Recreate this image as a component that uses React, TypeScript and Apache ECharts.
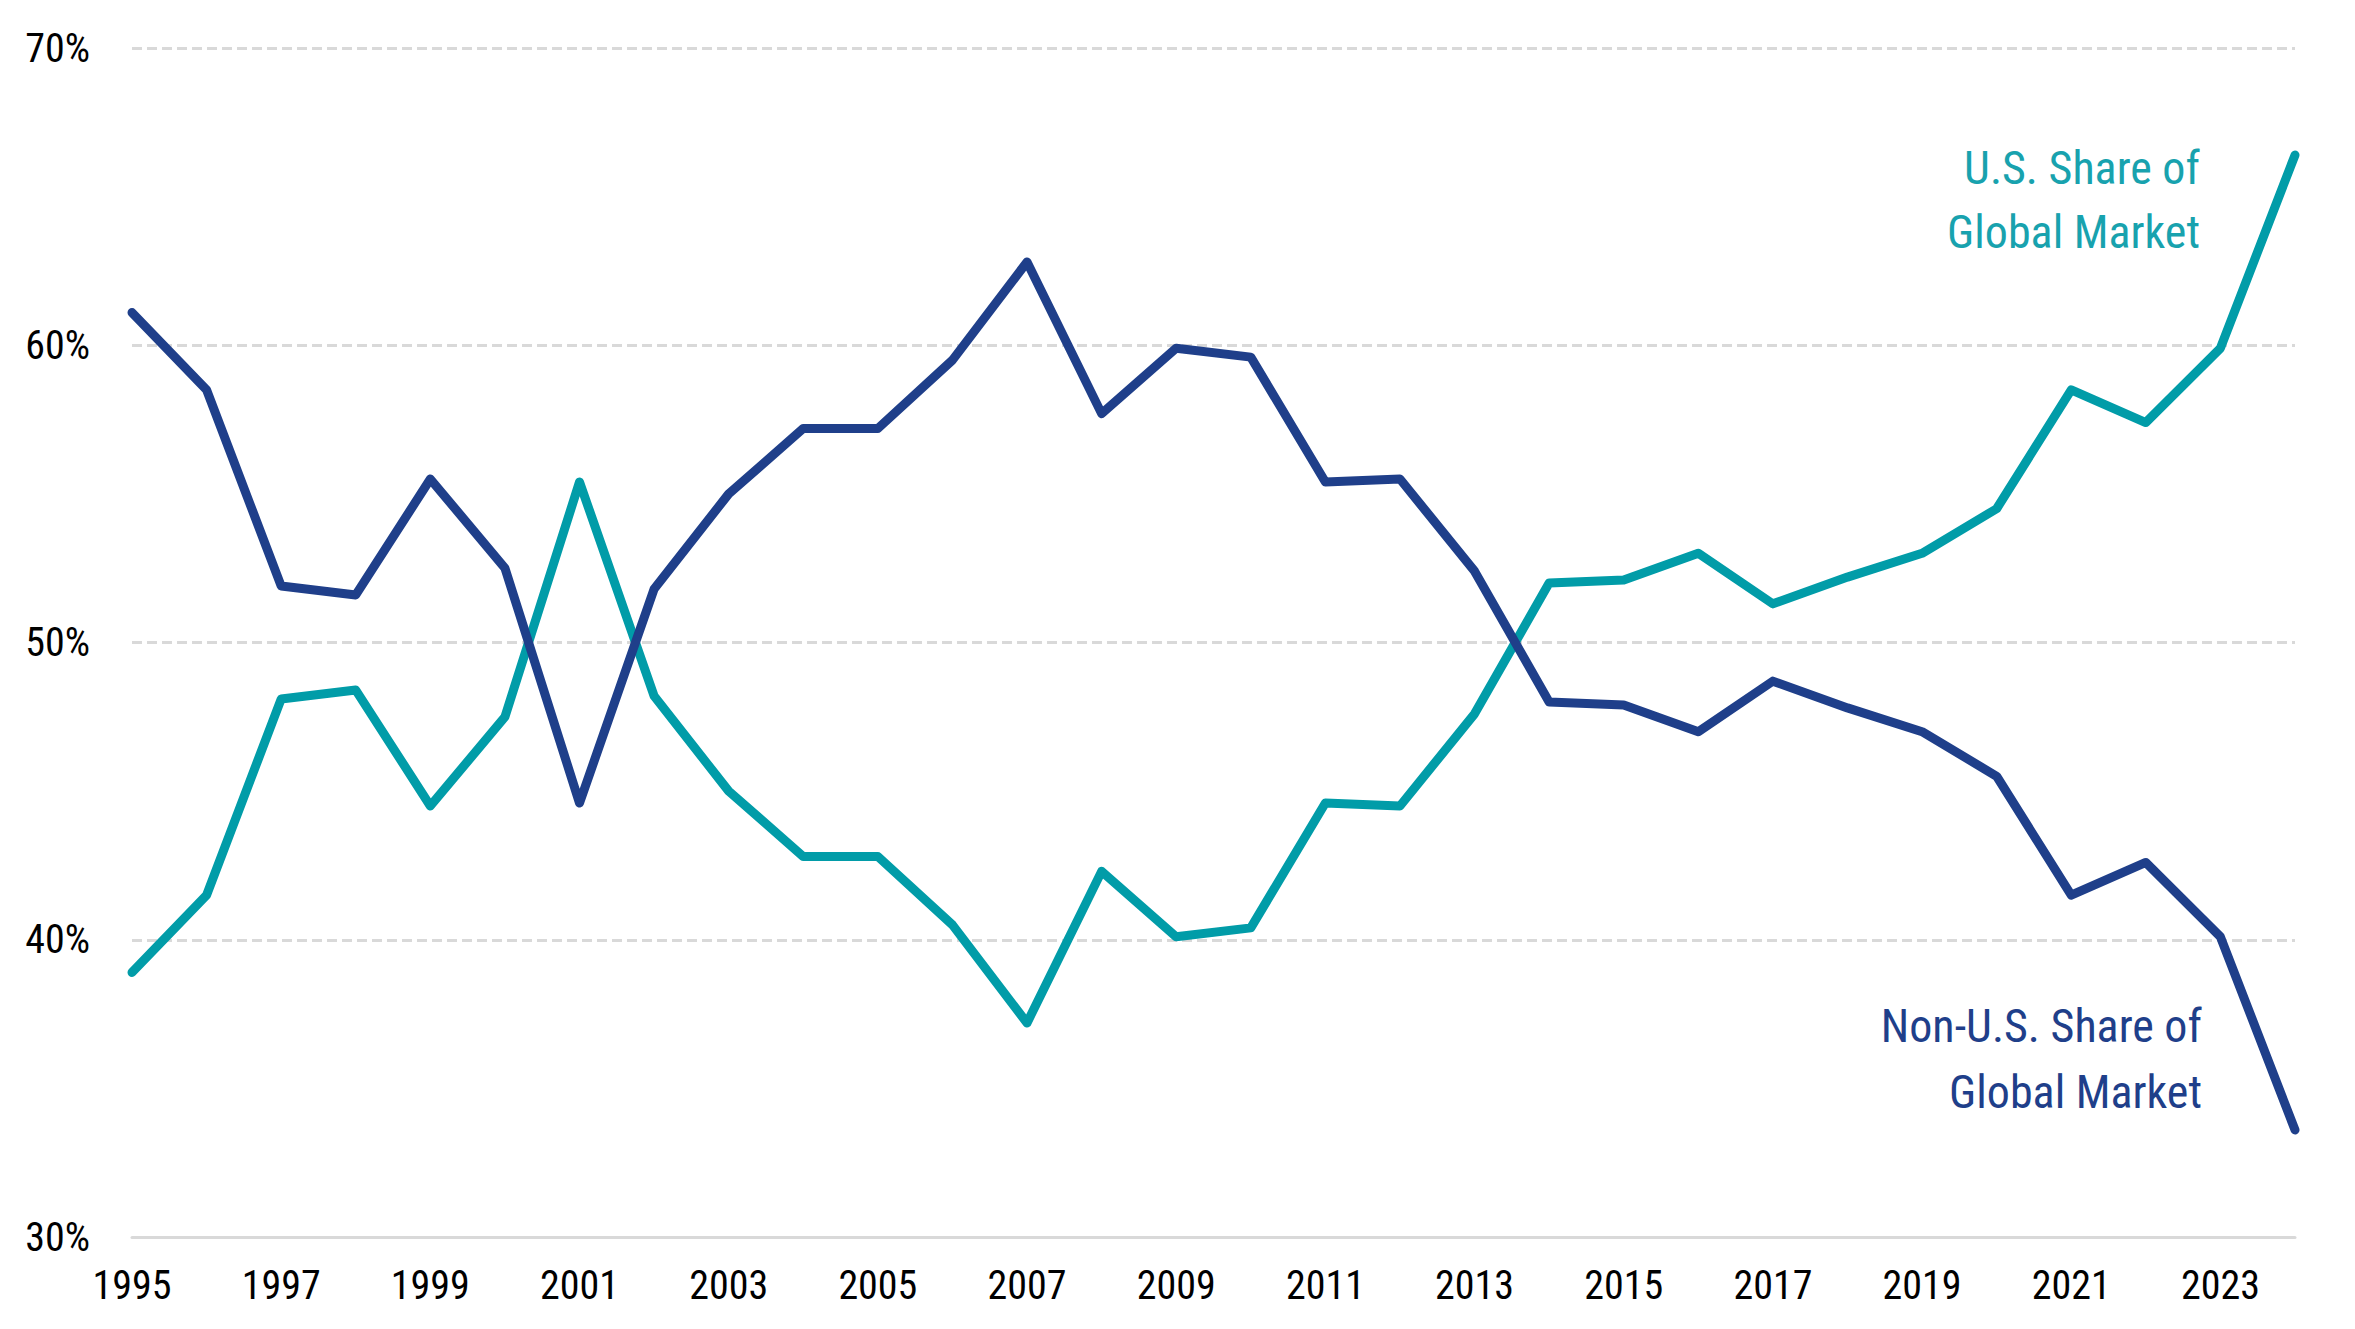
import { useEffect, useRef } from "react";
import * as echarts from "echarts";

const years = [
  "1995", "1996", "1997", "1998", "1999", "2000", "2001", "2002", "2003", "2004",
  "2005", "2006", "2007", "2008", "2009", "2010", "2011", "2012", "2013", "2014",
  "2015", "2016", "2017", "2018", "2019", "2020", "2021", "2022", "2023", "2024",
];

// U.S. share of global market, %
const usShare = [
  38.9, 41.5, 48.1, 48.4, 44.5, 47.5, 55.4, 48.2, 45.0, 42.8,
  42.8, 40.5, 37.2, 42.3, 40.1, 40.4, 44.6, 44.5, 47.6, 52.0,
  52.1, 53.0, 51.3, 52.2, 53.0, 54.5, 58.5, 57.4, 59.9, 66.4,
];

// Non-U.S. share of global market, %
const nonUsShare = [
  61.1, 58.5, 51.9, 51.6, 55.5, 52.5, 44.6, 51.8, 55.0, 57.2,
  57.2, 59.5, 62.8, 57.7, 59.9, 59.6, 55.4, 55.5, 52.4, 48.0,
  47.9, 47.0, 48.7, 47.8, 47.0, 45.5, 41.5, 42.6, 40.1, 33.6,
];

const usLabel = ["U.S. Share of", "Global Market"];
const nonUsLabel = ["Non-U.S. Share of", "Global Market"];

const TEAL = "#019CA8";
const TEAL_TEXT = "#18A2AE";
const NAVY = "#1F3F8A";
const GRID = "#D9D9D9";
const FONT = '"Roboto Condensed", Roboto, sans-serif';

// one right-aligned text element per line
function labelLines(lines: string[], right: number, top: number, step: number, fill: string) {
  return lines.map((text, i) => ({
    type: "text",
    right,
    top: top + i * step,
    style: { text, fill, font: `46px ${FONT}` },
  }));
}

export default function App() {
  const ref = useRef<HTMLDivElement>(null);

  useEffect(() => {
    if (!ref.current) return;
    const chart = echarts.init(ref.current, undefined, { renderer: "svg" });

    chart.setOption({
      animation: false,
      backgroundColor: "#ffffff",
      textStyle: { fontFamily: FONT },
      grid: { left: 132, right: 60, top: 48, bottom: 92, containLabel: false },
      xAxis: {
        type: "category",
        data: years,
        boundaryGap: false,
        axisLine: { show: true, lineStyle: { color: GRID, width: 3 } },
        axisTick: { show: false },
        axisLabel: {
          interval: 1,
          margin: 28,
          color: "#000",
          fontSize: 40,
          fontFamily: FONT,
        },
        splitLine: { show: false },
      },
      yAxis: {
        type: "value",
        min: 30,
        max: 70,
        interval: 10,
        axisLine: { show: false },
        axisTick: { show: false },
        axisLabel: {
          formatter: "{value}%",
          margin: 42,
          color: "#000",
          fontSize: 40,
          fontFamily: FONT,
        },
        splitLine: {
          show: true,
          lineStyle: { color: GRID, width: 3, type: [10, 5] },
        },
      },
      series: [
        {
          name: "U.S.",
          type: "line",
          data: usShare,
          symbol: "none",
          lineStyle: { color: TEAL, width: 9, cap: "round", join: "round" },
          z: 2,
        },
        {
          name: "Non-U.S.",
          type: "line",
          data: nonUsShare,
          symbol: "none",
          lineStyle: { color: NAVY, width: 9, cap: "round", join: "round" },
          z: 3,
        },
      ],
      graphic: [
        ...labelLines(usLabel, 155, 145, 64, TEAL_TEXT),
        ...labelLines(nonUsLabel, 153, 1003, 66, NAVY),
      ],
    });

    return () => chart.dispose();
  }, []);

  return (
    <div
      ref={ref}
      style={{ position: "fixed", left: 0, top: 0, width: 2355, height: 1329 }}
    />
  );
}
